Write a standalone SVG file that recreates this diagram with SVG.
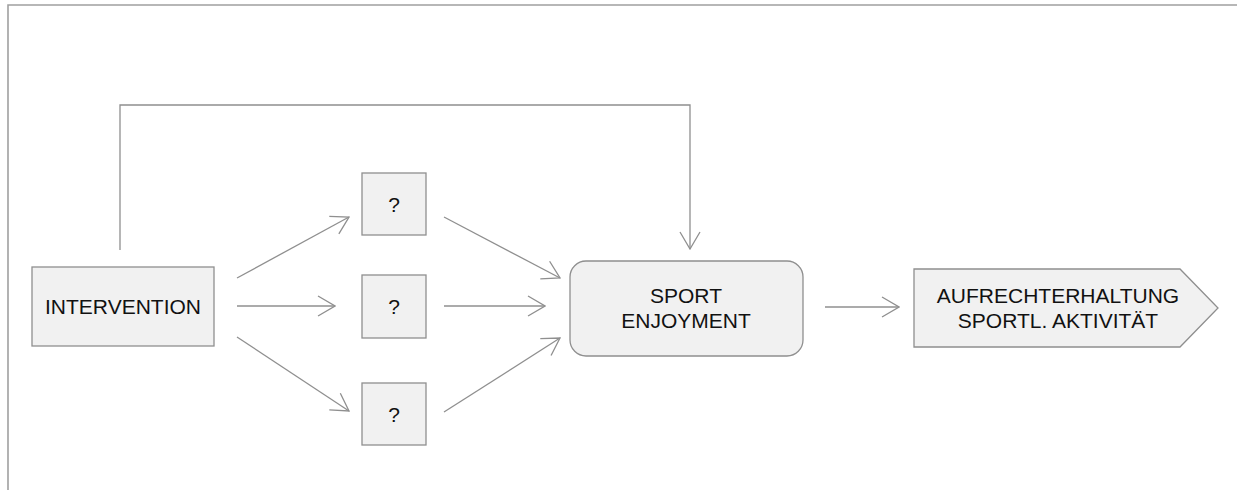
<svg xmlns="http://www.w3.org/2000/svg" width="1237" height="490" viewBox="0 0 1237 490">
<style>
.box{fill:#f1f1f1;stroke:#8f8f8f;stroke-width:1.3}
.conn{fill:none;stroke:#8f8f8f;stroke-width:1.3}
.t{font-family:"Liberation Sans",Arial,sans-serif;font-size:21px;fill:#111;text-anchor:middle}
</style>
<defs>
<marker id="ah" markerUnits="userSpaceOnUse" viewBox="-1 -1 19 22" refX="17" refY="10" markerWidth="19" markerHeight="22" orient="auto">
<path d="M0,0 L17,10 L0,20" fill="none" stroke="#8f8f8f" stroke-width="1.3"/>
</marker>
</defs>
<rect width="1237" height="490" fill="#fff"/>
<path d="M8,490 V5 H1237" fill="none" stroke="#a0a0a0" stroke-width="1.6"/>
<g id="connectors">
<path class="conn" d="M120,250 V105 H690 V249" marker-end="url(#ah)"/>
<path class="conn" d="M237,278 L349,217" marker-end="url(#ah)"/>
<path class="conn" d="M237,306 L335,306" marker-end="url(#ah)"/>
<path class="conn" d="M237,337 L349,411" marker-end="url(#ah)"/>
<path class="conn" d="M444,217 L560,278" marker-end="url(#ah)"/>
<path class="conn" d="M444,306 L545,306" marker-end="url(#ah)"/>
<path class="conn" d="M444,412 L560,338" marker-end="url(#ah)"/>
<path class="conn" d="M825,307 L899,307" marker-end="url(#ah)"/>
</g>
<g id="intervention">
<rect class="box" x="32" y="267" width="182" height="79"/>
<text class="t" x="123" y="314">INTERVENTION</text>
</g>
<g id="q1">
<rect class="box" x="362" y="173" width="64" height="62"/>
<text class="t" x="394" y="212">?</text>
</g>
<g id="q2">
<rect class="box" x="362" y="275" width="64" height="63"/>
<text class="t" x="394" y="314">?</text>
</g>
<g id="q3">
<rect class="box" x="362" y="383" width="64" height="62"/>
<text class="t" x="394" y="422">?</text>
</g>
<g id="sport">
<rect class="box" x="570" y="261" width="233" height="95" rx="16" ry="16"/>
<text class="t" x="686" y="303">SPORT</text>
<text class="t" x="686" y="328">ENJOYMENT</text>
</g>
<g id="aufrecht">
<path class="box" d="M914,269 H1180 L1218,308 L1180,347 H914 Z"/>
<text class="t" x="1058" y="303">AUFRECHTERHALTUNG</text>
<text class="t" x="1058" y="328">SPORTL. AKTIVITÄT</text>
</g>
</svg>
